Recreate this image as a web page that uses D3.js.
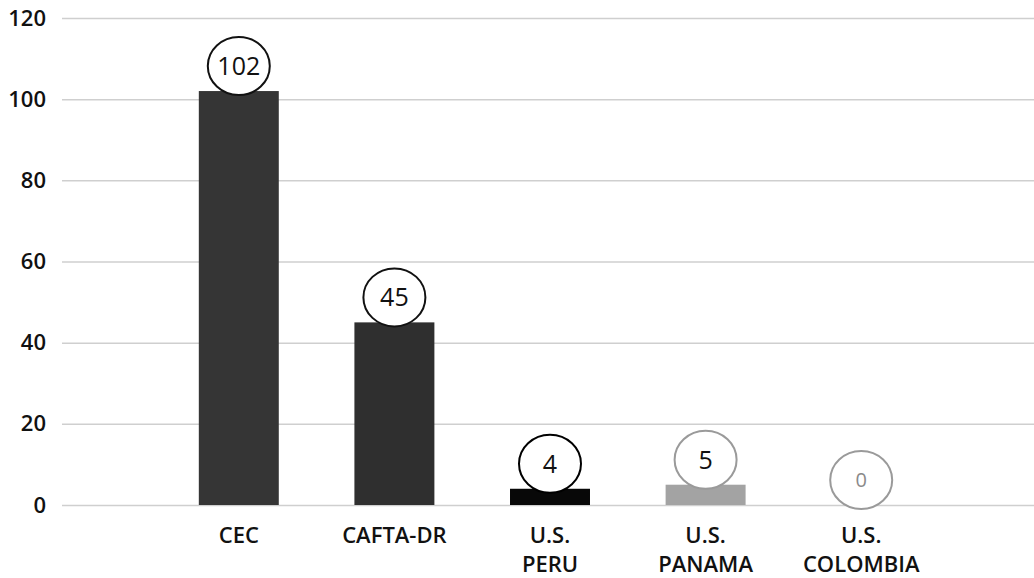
<!DOCTYPE html>
<html>
<head>
<meta charset="utf-8">
<script src="https://cdn.jsdelivr.net/npm/d3@7"></script>
<style>
  html, body { margin: 0; padding: 0; background: #fff; }
  svg { display: block; }
  text { font-family: "Open Sans", "Liberation Sans", sans-serif; }
</style>
</head>
<body>
<svg id="chart" width="1034" height="578"></svg>
<script>
// Agreement categories (multi-line labels split on "\n")
const categories = ["CEC", "CAFTA-DR", "U.S.\nPERU", "U.S.\nPANAMA", "U.S.\nCOLOMBIA"];
const values = [102, 45, 4, 5, 0];
const barColors = ["#353535", "#2f2f2f", "#080808", "#a3a3a3", "#a3a3a3"];
const ringColors = ["#111", "#111", "#000", "#9a9a9a", "#9a9a9a"];
const labelColors = ["#111", "#111", "#111", "#111", "#8a8a8a"];
const yTicks = [0, 20, 40, 60, 80, 100, 120];

const svg = d3.select("#chart");

const y = d3.scaleLinear().domain([0, 120]).range([505, 18]);
const x = d3.scaleBand()
  .domain(categories)
  .range([161, 939])
  .paddingInner(0.486)
  .paddingOuter(0.243);

// Horizontal gridlines with tick labels on the left
const yAxis = d3.axisLeft(y)
  .tickValues(yTicks)
  .tickSize(-(1034 - 62))
  .tickPadding(16);

const gy = svg.append("g")
  .attr("transform", "translate(62,0)")
  .call(yAxis);
gy.select(".domain").remove();
gy.selectAll(".tick line").attr("stroke", "#cfcfcf").attr("stroke-width", 1.5);
gy.selectAll(".tick text")
  .attr("fill", "#111")
  .attr("font-size", 22)
  .attr("font-weight", 600);

// Bars
const data = categories.map((c, i) => ({
  cat: c, value: values[i], fill: barColors[i], ring: ringColors[i], label: labelColors[i]
}));

svg.append("g").selectAll("rect")
  .data(data.filter(d => d.value > 0))
  .join("rect")
  .attr("x", d => x(d.cat))
  .attr("y", d => y(d.value))
  .attr("width", x.bandwidth())
  .attr("height", d => y(0) - y(d.value))
  .attr("fill", d => d.fill);

// Circled value labels resting on top of each bar
const badges = svg.append("g").selectAll("g")
  .data(data)
  .join("g")
  .attr("transform", d => `translate(${x(d.cat) + x.bandwidth() / 2},${y(d.value) - 25})`);

badges.append("ellipse")
  .attr("rx", 31)
  .attr("ry", 29)
  .attr("fill", "#fff")
  .attr("stroke", d => d.ring)
  .attr("stroke-width", 2);

badges.append("text")
  .attr("text-anchor", "middle")
  .attr("dy", "0.36em")
  .attr("font-size", (d, i) => i === 4 ? 20 : 25)
  .attr("fill", d => d.label)
  .text(d => d.value);

// Category labels below the baseline, one text per line
const lineGap = 29;
const xl = svg.append("g").selectAll("g")
  .data(categories)
  .join("g")
  .attr("transform", d => `translate(${x(d) + x.bandwidth() / 2},543)`);

xl.selectAll("text")
  .data(d => d.split("\n"))
  .join("text")
  .attr("y", (d, i) => i * lineGap)
  .attr("text-anchor", "middle")
  .attr("font-size", 22)
  .attr("font-weight", 600)
  .attr("fill", "#111")
  .text(d => d);
</script>
</body>
</html>
